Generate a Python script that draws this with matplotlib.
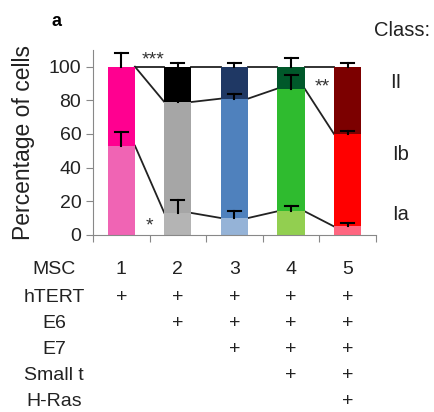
import numpy as np
import matplotlib.pyplot as plt
from matplotlib.transforms import blended_transform_factory

plt.rcParams['font.family'] = ['Liberation Sans', 'DejaVu Sans']

# stacked class fractions per MSC line (percent)
lines = ['1', '2', '3', '4', '5']
ia = [53, 13, 10, 14, 5]
ib = [47, 66, 71, 73, 55]
ii = [0, 21, 19, 13, 40]
ia_err = [8, 8, 4, 3, 2]
ib_err = [8, 4, 3, 8, 2]
ii_err = [0, 2, 2, 5, 2]

ia_col = ['#f064b4', '#b4b4b4', '#95b3d7', '#92cf50', '#ff6680']
ib_col = ['#ff0090', '#a6a6a6', '#4f81bd', '#2fbb2f', '#ff0000']
ii_col = ['#ff0090', '#000000', '#1f3864', '#00582a', '#7c0000']

# genes introduced in each line
genes = ['hTERT', 'E6', 'E7', 'Small t', 'H-Ras']
present = [
    [1, 1, 1, 1, 1],
    [0, 1, 1, 1, 1],
    [0, 0, 1, 1, 1],
    [0, 0, 0, 1, 1],
    [0, 0, 0, 0, 1],
]

fig = plt.figure(figsize=(4.35, 4.12), dpi=100)
ax = fig.add_axes([0.214, 0.430, 0.650, 0.449])

x = np.arange(len(lines)) + 0.5
w = 0.48
ia = np.array(ia)
ib = np.array(ib)
ii = np.array(ii)
top_ib = ia + ib

ax.bar(x, ia, w, color=ia_col, zorder=2)
ax.bar(x, ib, w, bottom=ia, color=ib_col, zorder=2)
ax.bar(x, ii, w, bottom=top_ib, color=ii_col, zorder=2)


def up_err(xs, ys, errs, cap=0.115):
    # one-sided "T" error bars, no cap at the base
    for xi, yi, ei in zip(xs, ys, errs):
        if ei <= 0:
            continue
        ax.plot([xi, xi], [yi, yi + ei], color='black', lw=1.5, zorder=3)
        ax.plot([xi - cap, xi + cap], [yi + ei] * 2, color='black', lw=1.5, zorder=3)


up_err(x, ia, ia_err)
up_err(x, top_ib, ib_err)
up_err(x[ii > 0], (top_ib + ii)[ii > 0], np.array(ii_err)[ii > 0])

# connector lines between neighbouring bars
for lvl in [ia, top_ib, top_ib + ii]:
    for i in range(len(lines) - 1):
        ax.plot([x[i] + w / 2, x[i + 1] - w / 2], [lvl[i], lvl[i + 1]],
                color='#222222', lw=1.3, zorder=1)

star_kw = dict(ha='center', va='center', fontsize=14, color='#333333')
ax.text(1.06, 104, '***', **star_kw)
ax.text(1.0, 5, '*', **star_kw)
ax.text(4.05, 88, '**', **star_kw)

ax.set_xlim(0, 5)
ax.set_ylim(0, 110)
ax.set_xticks(np.arange(6))
ax.set_xticklabels([])
ax.set_yticks(np.arange(0, 101, 20))
ax.tick_params(axis='both', direction='out', length=5, color='#888888', labelsize=14,
               labelcolor='#222222')
for s in ['top', 'right']:
    ax.spines[s].set_visible(False)
for s in ['left', 'bottom']:
    ax.spines[s].set_color('#888888')
ax.set_ylabel('Percentage of cells', fontsize=16.5, labelpad=10, color='#222222')

fig.text(57 / 435, 1 - 22 / 412, 'a', fontsize=13, fontweight='bold', ha='center', va='center')
fig.text(402 / 435, 1 - 30 / 412, 'Class:', fontsize=14.5, ha='center', va='center', color='#222222')
for lab, px, py in [('II', 396, 83), ('Ib', 401, 155), ('Ia', 401, 215)]:
    fig.text(px / 435, 1 - py / 412, lab, fontsize=14.5, ha='center', va='center', color='#222222')

# gene table under the axis
tr = blended_transform_factory(ax.transData, fig.transFigure)
row_y = [270, 297, 323, 349, 376, 402]
tkw = dict(fontsize=14, ha='center', va='center', color='#222222')
fig.text(54 / 435, 1 - row_y[0] / 412, 'MSC', **tkw)
for i, lab in enumerate(lines):
    ax.text(x[i], 1 - row_y[0] / 412, lab, transform=tr, **tkw)
for r, g in enumerate(genes):
    y = 1 - row_y[r + 1] / 412
    fig.text(54 / 435, y, g, **tkw)
    for i in range(len(lines)):
        if present[r][i]:
            ax.text(x[i], y, '+', transform=tr, **tkw)

fig.savefig('out.png', dpi=100)
